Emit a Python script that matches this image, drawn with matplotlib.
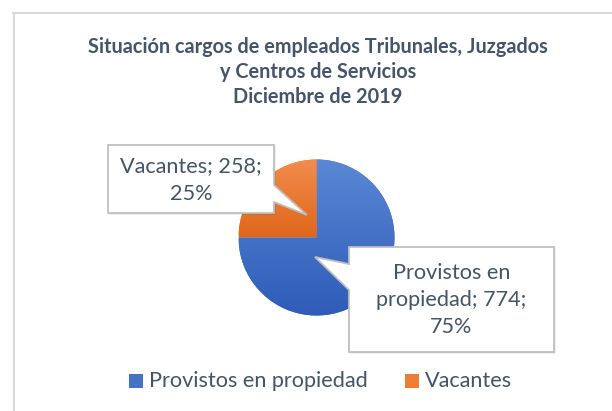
import textwrap
import numpy as np
import matplotlib
matplotlib.use("Agg")
import matplotlib.pyplot as plt
from matplotlib.patches import Polygon, Rectangle
from matplotlib.colors import LinearSegmentedColormap

# ---- data ----
title_lines = ["Situación cargos de empleados Tribunales, Juzgados",
               "y Centros de Servicios",
               "Diciembre de 2019"]
categories = ["Provistos en propiedad", "Vacantes"]
values = [774, 258]
colors = ["#4472C4", "#ED7D31"]
grad_top = ["#5B87D6", "#F28D4E"]
grad_bot = ["#2D5BB7", "#E0661A"]

TEXT = "#44546A"
FONT = ["Lato", "DejaVu Sans"]
plt.rcParams["font.family"] = FONT

W, H = 612, 411
fig = plt.figure(figsize=(W / 100, H / 100), dpi=100)
ax = fig.add_axes([0, 0, 1, 1])


def Y(y):
    return H - y


# ---- pie ----
cx, cy, r = 316.5, 237.5, 78
wedges, _ = ax.pie(values, colors=colors, startangle=90, counterclock=False,
                   center=(cx, Y(cy)), radius=r, frame=True,
                   wedgeprops=dict(linewidth=0))
grad = np.linspace(0, 1, 256).reshape(-1, 1)
for w, ct, cb in zip(wedges, grad_top, grad_bot):
    v = w.get_path().vertices
    x0, x1 = v[:, 0].min(), v[:, 0].max()
    y0, y1 = v[:, 1].min(), v[:, 1].max()
    cmap = LinearSegmentedColormap.from_list("g", [cb, ct])
    im = ax.imshow(grad, cmap=cmap, extent=[x0, x1, y0, y1], origin="lower",
                   aspect="auto", zorder=w.get_zorder() + 0.1,
                   interpolation="bilinear")
    im.set_clip_path(w)

# ---- callouts ----
total = sum(values)
labels_txt = [textwrap.fill(f"{c}; {v}; {round(100 * v / total)}%", 15)
              for c, v in zip(categories, values)]

callouts = [
    # Provistos
    [(349, 247), (554, 247), (554, 352), (349, 352), (349, 290), (315, 257), (349, 264)],
    # Vacantes
    [(108, 145), (274, 145), (274, 185), (307, 215), (274, 202), (274, 213), (108, 213)],
]
text_pos = [(451.5, 300), (191, 180)]

for pts, txt, (tx, ty) in zip(callouts, labels_txt, text_pos):
    shadow = [(x + 1.5, Y(y + 1.5)) for x, y in pts]
    ax.add_patch(Polygon(shadow, closed=True, facecolor="#000000", alpha=0.12,
                         edgecolor="none", zorder=5))
    ax.add_patch(Polygon([(x, Y(y)) for x, y in pts], closed=True,
                         facecolor="white", edgecolor="#BFBFBF", lw=1.3, zorder=6))
    ax.text(tx, Y(ty), txt, ha="center", va="center", fontsize=15.6,
            color=TEXT, linespacing=1.45, zorder=7)

# ---- title ----
ax.text(318, Y(72), "\n".join(title_lines), ha="center", va="center",
        fontsize=14.3, fontweight="bold", color=TEXT, linespacing=1.3)

# ---- legend ----
leg_x = [129, 405]
for x, c, cat in zip(leg_x, colors, categories):
    ax.add_patch(Rectangle((x, Y(388)), 14, 14, facecolor=c, edgecolor="none"))
    ax.text(x + 20, Y(381), cat, ha="left", va="center", fontsize=15.6, color=TEXT)

# ---- chart border ----
ax.plot([13.5, 13.5], [Y(13), Y(411)], color="#D9D9D9", lw=1.5)
ax.plot([13, 612], [Y(13.5), Y(13.5)], color="#D9D9D9", lw=1.5)

ax.set_xlim(0, W)
ax.set_ylim(0, H)
ax.set_aspect("auto")
ax.axis("off")

fig.savefig("out.png", dpi=100)
